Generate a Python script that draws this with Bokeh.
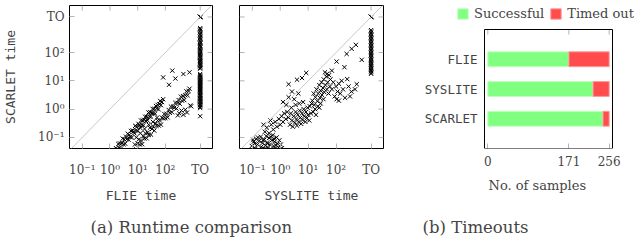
import numpy as np
from bokeh.plotting import figure
from bokeh.layouts import row
from bokeh.models import (Range1d, FixedTicker, Label, Slope, BoxAnnotation, Title,
                          Legend, LegendItem, ColumnDataSource)
from bokeh.core.properties import value
from bokeh.embed import file_html
from bokeh.resources import INLINE

# ---------------- data (times as log10 seconds) ----------------
TO_LABEL = "TO"
TO_LOG = float(np.log10(1800))          # timeout position on the time axes
time_ticks = [-1, 0, 1, 2]
time_tick_labels = ["10⁻¹", "10⁰", "10¹", "10²"]

# (a) left: FLIE time (x) vs SCARLET time (y), both solved
flie_a = [0.22, 0.26, 0.30, 0.33, 0.36, 0.40, 0.43, 0.46, 0.49, 0.52, 0.55, 0.58, 0.61, 0.64,
          0.67, 0.70, 0.73, 0.76, 0.79, 0.82, 0.85, 0.88, 0.91, 0.94, 0.97, 1.00, 1.03, 1.06,
          1.09, 1.12, 1.15, 1.18, 1.21, 1.24, 1.27, 1.30, 1.33, 1.36, 1.39, 1.42, 1.45, 1.48,
          1.51, 1.54, 1.57, 1.60, 1.63, 1.66, 1.69, 1.72, 1.75, 1.78, 1.81, 1.84, 1.88, 1.92,
          0.85, 0.90, 0.95, 1.00, 1.04, 1.08, 1.12, 1.16, 1.20, 1.24, 1.28, 1.32, 1.36, 1.40,
          1.44, 1.48, 1.52, 1.56, 1.60, 1.64, 1.68, 1.72, 1.76, 1.80, 1.84, 1.88, 1.92, 1.96,
          2.00, 2.04, 2.08, 2.12, 2.16, 2.20, 2.24, 2.28, 2.32, 2.36, 2.40, 2.44, 2.48, 2.52,
          2.56, 2.60, 2.64, 2.68, 2.72, 2.76, 2.80, 2.84, 2.87,
          2.45, 2.50, 2.58, 2.65, 2.72, 2.78, 2.90, 2.93, 0.95, 1.10, 1.25, 1.40, 1.55, 1.70,
          1.92, 2.25, 2.36, 2.13, 2.65, 2.87]
scarlet_a = [-1.38, -1.42, -1.23, -1.36, -1.21, -1.39, -1.20, -1.04, -1.24, -1.07, -1.22, -0.97,
             -1.06, -0.87, -1.08, -0.91, -0.98, -0.77, -1.00, -0.75, -0.80, -0.85, -0.59, -0.75,
             -0.62, -0.77, -0.52, -0.57, -0.66, -0.40, -0.55, -0.40, -0.57, -0.38, -0.27, -0.42,
             -0.27, -0.40, -0.12, -0.26, -0.11, -0.26, -0.13, 0.01, -0.14, 0.01, -0.16, 0.11,
             0.02, 0.15, 0.00, 0.17, 0.29, 0.14, 0.25, 0.35,
             -1.45, -1.25, -1.42, -1.21, -1.07, -1.25, -1.11, -1.24, -0.96, -1.04, -0.85, -1.03,
             -0.83, -0.91, -0.66, -0.90, -0.70, -0.61, -0.76, -0.50, -0.59, -0.40, -0.58, -0.40,
             -0.55, -0.30, -0.33, -0.17, -0.32, -0.17, -0.29, -0.03, -0.13, 0.09, -0.11, 0.09,
             0.05, 0.22, 0.02, 0.22, 0.32, 0.19, 0.44, 0.30, 0.46, 0.32, 0.49, 0.63, 0.49, 0.64,
             0.72,
             -0.22, -0.15, -0.05, -0.20, -0.02, -0.12, 0.13, 0.10, -1.00, -0.85, -0.70, -0.55,
             -0.45, -0.30,
             1.12, 1.36, 1.08, 0.86, 1.24, 1.30]
# SCARLET time on the samples where FLIE timed out
scarlet_when_flie_to = [-0.25, 0.04, 0.08, 0.13, 0.16, 0.19, 0.24, 0.27, 0.31, 0.35, 0.38, 0.41,
                        0.46, 0.49, 0.52, 0.57, 0.60, 0.63, 0.67, 0.70, 0.74, 0.78, 0.81, 0.84,
                        0.88, 0.91, 0.95, 0.98, 1.02, 1.05, 1.08, 1.12, 1.16, 1.20, 1.24, 1.43,
                        1.46, 1.51, 1.55, 1.58, 1.62, 1.67, 1.70, 1.74, 1.79, 1.83, 1.86, 1.91,
                        1.95, 1.99, 2.04, 2.08, 2.12, 2.17, 2.22, 2.26, 2.31, 2.35, 2.40, 2.46,
                        2.50, 2.55, 2.61, 2.66, 2.71, 2.77, 2.82, 2.86]
both_timed_out_a = 6

# (a) right: SYSLITE time (x) vs SCARLET time (y), both solved
syslite_b = [-1.02, -0.95, -0.90, -0.86, -0.82, -0.78, -0.75, -0.70, -0.68, -0.64, -0.60, -0.57,
             -0.53, -0.50, -0.47, -0.44, -0.40, -0.37, -0.33, -0.30, -0.27, -0.24, -0.20, -0.17,
             -0.13, -0.10, -0.06, -0.03, -0.92, -0.80, -0.62, -0.45, -0.35, -0.22, -0.98, -0.55,
             -0.15, 0.02, 0.06,
             -0.55, -0.48, -0.40, -0.32, -0.25, -0.18, -0.12, -0.05, 0.00, 0.05, 0.10, 0.14,
             -0.35, -0.60,
             0.30, 0.35, 0.38, 0.42, 0.45, 0.48, 0.52, 0.55, 0.58, 0.60, 0.63, 0.66, 0.70, 0.72,
             0.75, 0.78, 0.80, 0.84, 0.86, 0.90, 0.92, 0.95, 0.98, 1.00, 1.04, 1.06, 1.10, 1.12,
             0.40, 0.55, 0.68, 0.25, 0.20, 0.82,
             0.22, 0.30, 0.42, 0.50, 0.10, 0.30, 0.60, 0.78, 0.93, 0.65,
             1.15, 1.20, 1.22, 1.26, 1.30, 1.33, 1.36, 1.40, 1.42, 1.45, 1.48, 1.50, 1.53, 1.56,
             1.58, 1.62, 1.65, 1.67, 1.70, 1.73, 1.75, 1.78, 1.80, 1.25, 1.35, 1.45, 1.18, 1.28,
             1.40, 1.55, 1.60, 1.68,
             1.85, 1.90, 1.95, 2.00, 2.05, 2.02, 2.10, 2.15, 2.20, 2.25, 2.32, 2.40, 2.45, 2.55,
             2.68, 2.74, 2.30, 2.02, 1.85, 2.38, 2.56, 2.71, 2.92, 2.10, 2.50]
scarlet_b = [-1.30, -1.15, -1.38, -1.05, -1.25, -1.42, -1.12, -0.98, -1.33, -1.20, -1.40, -1.08,
             -1.28, -0.95, -1.18, -1.36, -1.02, -1.25, -1.42, -1.10, -0.92, -1.30, -1.15, -1.38,
             -1.00, -1.22, -1.35, -1.10, -1.22, -1.00, -1.10, -1.22, -0.98, -1.05, -1.08, -1.40,
             -1.28, -1.25, -1.38,
             -0.80, -0.65, -0.85, -0.55, -0.72, -0.45, -0.62, -0.35, -0.55, -0.25, -0.45, -0.15,
             -0.40, -0.55,
             -0.30, -0.55, -0.15, -0.40, -0.62, -0.25, -0.48, -0.10, -0.35, -0.58, -0.20, -0.45,
             -0.05, -0.30, -0.52, -0.15, -0.38, 0.00, -0.25, -0.45, -0.10, -0.32, 0.05, -0.20,
             -0.40, 0.10, -0.15, 0.20, 0.05, 0.15, 0.20, -0.10, -0.35, 0.25,
             0.15, 0.42, 0.62, 0.35, 0.25, 0.88, 1.04, 1.10, 1.28, 0.55,
             0.30, 0.55, 0.15, 0.42, 0.70, 0.28, 0.55, 0.85, 0.40, 0.65, 0.95, 0.50, 0.75, 1.05,
             0.60, 0.85, 1.15, 0.70, 0.95, 0.55, 1.20, 0.80, 1.05, 0.00, 0.10, 0.20, -0.10, -0.20,
             0.05, 0.35, 1.30, 1.25,
             0.70, 0.95, 0.45, 0.80, 0.62, 0.35, 0.90, 0.55, 1.00, 0.70, 0.40, 1.06, 0.80, 0.62,
             0.70, 0.88, 1.48, 1.68, 1.36, 1.95, 2.13, 2.27, 1.74, 0.30, 0.45]
# SCARLET time on the samples where SYSLITE timed out
scarlet_when_syslite_to = [1.25, 1.29, 1.34, 1.38, 1.43, 1.47, 1.52, 1.57, 1.61, 1.66, 1.71,
                           1.75, 1.80, 1.85, 1.90, 1.94, 1.99, 2.04, 2.09, 2.14, 2.19, 2.24,
                           2.29, 2.34, 2.39, 2.44, 2.49, 2.54, 2.59, 2.64, 2.69, 2.74, 2.79]
both_timed_out_b = 6

# (b) timeouts
tools = ["FLIE", "SYSLITE", "SCARLET"]
successful = [171, 222, 243]
timed_out = [85, 34, 13]
count_ticks = [0, 171, 256]

# ---------------- styling ----------------
SERIF = "DejaVu Serif"
MONO = "DejaVu Sans Mono"
TICK_GREY = "#b4b4b4"
GREEN, GREEN_EDGE = "#80ff80", "#bfffbf"
RED, RED_EDGE = "#ff4d4d", "#ff9a9a"
X_LO, X_HI = -1.46, 3.70
Y_LO_T, Y_HI_T = -1.39, 3.66
FH = 143                  # frame height shared by the whole row
TOP_B, BOT_B = 5, 62
TICK_PX = 5


def style_axis(ax, ticks, standoff):
    ax.ticker = FixedTicker(ticks=ticks)
    ax.major_tick_in = TICK_PX
    ax.major_tick_out = 0
    ax.major_tick_line_color = TICK_GREY
    ax.minor_tick_line_color = None
    ax.axis_line_color = None
    ax.major_label_text_font = SERIF
    ax.major_label_text_font_size = "12px"
    ax.major_label_standoff = standoff


def time_panel(xs, ys, col_ys, n_both, x_label, y_label, border_l, fw, border_r):
    show_y = y_label is not None
    p = figure(width=border_l + fw + border_r, height=TOP_B + FH + BOT_B, title=None,
               x_range=Range1d(X_LO, X_HI), y_range=Range1d(Y_LO_T, Y_HI_T),
               output_backend="svg", toolbar_location=None,
               y_axis_location="left" if show_y else None,
               min_border_left=border_l, min_border_right=border_r,
               min_border_top=TOP_B, min_border_bottom=BOT_B)
    p.grid.visible = False
    p.outline_line_color = "black"
    p.outline_line_alpha = 1
    p.outline_line_width = 1
    ticks = time_ticks + [TO_LOG]
    overrides = dict(zip(ticks, time_tick_labels + [TO_LABEL]))
    xa = p.xaxis[0]
    style_axis(xa, ticks, 14)
    xa.major_label_overrides = overrides
    xa.axis_label = x_label
    xa.axis_label_text_font = MONO
    xa.axis_label_text_font_style = "normal"
    xa.axis_label_text_font_size = "13px"
    xa.axis_label_standoff = 8
    if show_y:
        ya = p.yaxis[0]
        style_axis(ya, ticks, 5)
        ya.major_label_overrides = overrides
        ya.axis_label = y_label
        ya.axis_label_text_font = MONO
        ya.axis_label_text_font_style = "normal"
        ya.axis_label_text_font_size = "13px"
        ya.axis_label_standoff = 17

    # inner tick marks on the sides that carry no axis
    lx = TICK_PX * (X_HI - X_LO) / fw
    ly = TICK_PX * (Y_HI_T - Y_LO_T) / FH
    x0, y0, x1, y1 = [], [], [], []
    for t in ticks:
        segs = [(t, Y_HI_T - ly, t, Y_HI_T), (X_HI - lx, t, X_HI, t)]
        if not show_y:
            segs.append((X_LO, t, X_LO + lx, t))
        for a, b, c, d in segs:
            x0.append(a); y0.append(b); x1.append(c); y1.append(d)
    p.segment(x0=x0, y0=y0, x1=x1, y1=y1, line_color=TICK_GREY, line_width=1)

    p.add_layout(Slope(gradient=1, y_intercept=0, line_color="#c8c8c8", line_width=1))

    x = list(xs) + [TO_LOG] * len(col_ys) + [TO_LOG] * n_both
    y = list(ys) + list(col_ys) + [TO_LOG] * n_both
    p.scatter(x, y, marker="x", size=6, line_color="black", line_width=1)
    return p


p1 = time_panel(flie_a, scarlet_a, scarlet_when_flie_to, both_timed_out_a,
                "FLIE time", "SCARLET time", 67, 145, 13)
p2 = time_panel(syslite_b, scarlet_b, scarlet_when_syslite_to, both_timed_out_b,
                "SYSLITE time", None, 14, 144, 17)

# ---------------- (b) timeouts bar chart ----------------
# the frame is wider than the bar box so the legend and the tool names fit inside it
F3_L, F3_W, F3_R = 20, 220, 0           # figure spans 240 px
BOX_LEFT_PX, BOX_W, BOX_H = 64, 128, 119  # box position inside the frame
XLO, XHI = -7, 263
upx = (XHI - XLO) / BOX_W
XL = XLO - BOX_LEFT_PX * upx
XR = XHI + (F3_W - BOX_LEFT_PX - BOX_W) * upx
n = len(tools)
pos = [n - i - 0.5 for i in range(n)]          # FLIE on top
Y_LO, Y_BOX = -0.5, n + 0.5
Y_HI = Y_LO + FH * (Y_BOX - Y_LO) / BOX_H

p3 = figure(width=F3_L + F3_W + F3_R, height=TOP_B + FH + BOT_B, title=None,
            x_range=Range1d(XL, XR), y_range=Range1d(Y_LO, Y_HI),
            output_backend="svg", toolbar_location=None, y_axis_location=None,
            min_border_left=F3_L, min_border_right=F3_R, min_border_top=TOP_B,
            min_border_bottom=BOT_B)
p3.grid.visible = False
p3.outline_line_color = None
src = ColumnDataSource(dict(pos=pos, successful=successful, timed_out=timed_out))
bars = p3.hbar_stack(["successful", "timed_out"], y="pos", height=0.5, source=src,
                     fill_color=[GREEN, RED], line_color=[GREEN_EDGE, RED_EDGE], line_width=1)
p3.add_layout(BoxAnnotation(left=XLO, right=XHI, bottom=Y_LO, top=Y_BOX, fill_alpha=0,
                            line_color="black", line_alpha=1, line_width=1))
style_axis(p3.xaxis[0], count_ticks, 7)
tl = TICK_PX * (Y_BOX - Y_LO) / BOX_H
p3.segment(x0=count_ticks, y0=[Y_BOX - tl] * len(count_ticks), x1=count_ticks,
           y1=[Y_BOX] * len(count_ticks), line_color=TICK_GREY, line_width=1)
for name, yp in zip(tools, pos):
    p3.add_layout(Label(x=XLO, y=yp, x_offset=-7, text=name, text_align="right",
                        text_baseline="middle", text_font=MONO, text_font_size="12.5px"))
p3.add_layout(Title(text="No. of samples", align="left", offset=68, standoff=14,
                    text_font=SERIF, text_font_size="13px", text_font_style="normal"), "below")

legend = Legend(items=[LegendItem(label=value("Successful"), renderers=[bars[0]]),
                       LegendItem(label=value("Timed out"), renderers=[bars[1]])],
                orientation="horizontal", location=(36, FH - 16),
                border_line_color=None, background_fill_alpha=0,
                label_text_font=SERIF, label_text_font_size="13px",
                glyph_width=13, glyph_height=13, label_height=13, label_standoff=5, spacing=5,
                padding=0, margin=0)
p3.add_layout(legend)


# ---------------- captions ----------------
def caption(text, w, offset):
    c = figure(width=w, height=30, title=text, title_location="above",
               output_backend="svg", toolbar_location=None, min_border=0, min_border_top=26,
               x_axis_location=None, y_axis_location=None)
    c.outline_line_color = None
    c.grid.visible = False
    c.title.align = "left"
    c.title.offset = offset
    c.title.standoff = 0
    c.title.text_font = SERIF
    c.title.text_font_size = "16.5px"
    c.title.text_font_style = "normal"
    return c


cap_a = caption("(a) Runtime comparison", 400, 90)
cap_b = caption("(b) Timeouts", 240, 22)

open("out.html", "w").write(file_html((row(p1, p2, p3), row(cap_a, cap_b)), INLINE))
